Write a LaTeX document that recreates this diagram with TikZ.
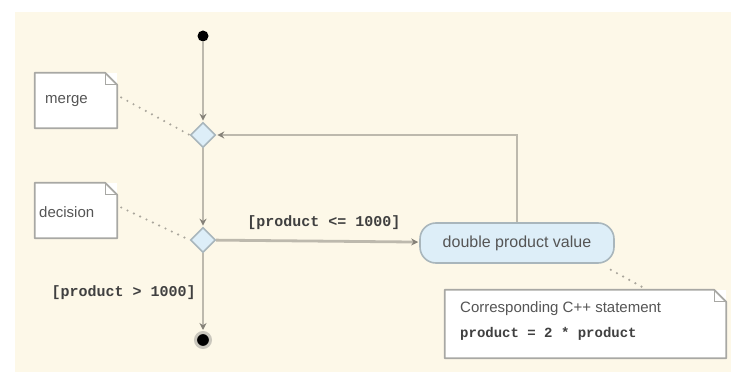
\documentclass[tikz,border=0pt]{standalone}
\usepackage{fontspec}
\setmainfont{Liberation Sans}
\setmonofont{Liberation Mono}
\usetikzlibrary{shapes.geometric,arrows.meta,calc}

\definecolor{canvas}{HTML}{FDF8E8}
\definecolor{flow}{HTML}{BDB9AD}
\definecolor{tipcol}{HTML}{858178}
\definecolor{notebd}{HTML}{A8A8A4}
\definecolor{nodefill}{HTML}{DDEEF8}
\definecolor{nodebd}{HTML}{A9B6BC}
\definecolor{txt}{HTML}{555555}
\definecolor{codetxt}{HTML}{404040}

\tikzset{
  flowline/.style={draw=flow, line width=2.8pt},
  flowarrow/.style={flowline, -{Stealth[length=7pt,width=7pt,color=tipcol]}, shorten >=1pt},
  linkline/.style={draw=flow!90!black, line width=2.4pt, dash pattern=on 0pt off 7pt, line cap=round},
  initial/.style={circle, fill=black, minimum size=11pt, inner sep=0pt},
  final/.style={circle, fill=black, draw=flow!80, line width=3pt, minimum size=15pt, inner sep=0pt},
  choice/.style={diamond, draw=nodebd, fill=nodefill, line width=1.6pt, minimum width=25pt, minimum height=25pt, inner sep=0pt},
  action/.style={rectangle, rounded corners=16pt, draw=nodebd, fill=nodefill, line width=1.6pt,
    minimum width=194pt, minimum height=40pt, font=\fontsize{16}{19}\selectfont, text=txt},
  notebox/.style={rectangle, fill=white, inner sep=0pt, font=\fontsize{16}{19}\selectfont, text=txt},
  guard/.style={font=\ttfamily\bfseries\fontsize{15}{18}\selectfont, text=codetxt, inner sep=0pt},
}

% outline of a note with a folded corner
\newcommand{\dogear}[1]{%
  \draw[notebd, line width=1.8pt, line join=round]
    (#1.north west) -- ($(#1.north east)+(-12pt,0)$) -- ($(#1.north east)+(0,-12pt)$)
    -- (#1.south east) -- (#1.south west) -- cycle;
  \draw[notebd, line width=1.2pt]
    ($(#1.north east)+(-12pt,0)$) -- ($(#1.north east)+(-12pt,-12pt)$) -- ($(#1.north east)+(0,-12pt)$);
}

\begin{document}
\begin{tikzpicture}[x=1pt,y=-1pt]
  \useasboundingbox (0,0) rectangle (731,390);
  \fill[canvas] (15,12) rectangle (731,372);

  % control nodes
  \node[initial] (start) at (203,36) {};
  \node[choice] (merge) at (203,135) {};
  \node[choice] (decision) at (203,240) {};
  \node[final] (stop) at (203,340) {};

  % action
  \node[action] (act) at (517,243) {double product value};

  % notes
  \node[notebox, minimum width=82pt, minimum height=55pt] (mnote) at (76,100.5) {};
  \node[notebox, anchor=west, font=\fontsize{15}{18}\selectfont] (mtext) at (45,101) {merge};
  \node[notebox, minimum width=82pt, minimum height=55pt] (dnote) at (76,210.5) {};
  \node[notebox, anchor=west, font=\fontsize{15}{18}\selectfont] (dtext) at (39,212) {decision};
  \node[notebox, minimum width=281pt, minimum height=68pt] (cnote) at (585.5,324) {};
  \node[notebox, anchor=west, font=\fontsize{15}{18}\selectfont] (ctext1) at (460,309) {Corresponding C++ statement};
  \node[guard, anchor=west, fill=white, font=\ttfamily\bfseries\fontsize{14}{17}\selectfont] (ctext2) at (460,334) {product = 2 * product};
  \dogear{mnote}
  \dogear{dnote}
  \dogear{cnote}

  % control flow
  \draw[flowarrow] (start) -- (merge);
  \draw[flowarrow] (merge) -- (decision);
  \draw[flowarrow] (decision) -- node[guard, above=10pt, pos=0.53] (gyes) {[product <= 1000]} (act);
  \draw[flowarrow] (act.north) |- (merge.east);
  \draw[flowarrow] (decision) -- node[guard, left=6pt, pos=0.5] (gno) {[product > 1000]} (stop);

  % note links
  \draw[linkline] ($(mnote.east)+(4pt,3pt)$) -- (merge.west);
  \draw[linkline] ($(dnote.east)+(4pt,3pt)$) -- (decision.west);
  \draw[linkline] ($(act.south east)+(-4pt,-6pt)$) -- ($(cnote.north west)!0.72!(cnote.north east)$);
\end{tikzpicture}
\end{document}
